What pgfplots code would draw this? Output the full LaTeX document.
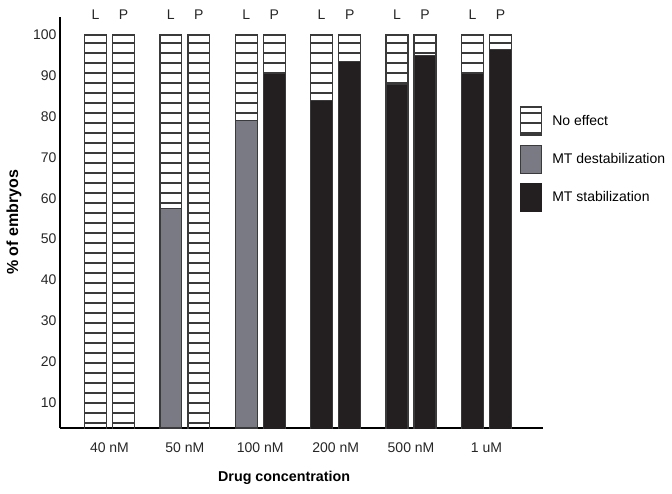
\documentclass[border=0pt]{standalone}
\usepackage{fontspec}
\setmainfont{Liberation Sans}
\usepackage{pgfplots}
\pgfplotsset{compat=1.18}
\usepackage{pgfplotstable}
\usetikzlibrary{patterns.meta}
\definecolor{destab}{HTML}{797A84}
\definecolor{stab}{HTML}{231F20}
\definecolor{edge}{HTML}{3A3A3A}
\tikzset{noeffect/.style={pattern={Lines[angle=0,distance=10pt,line width=1.6pt]}, pattern color=edge}}

\pgfplotstableread{
x destab stab none
-0.186 0 0 100
0.186 0 0 100
0.814 57.5 0 42.5
1.186 0 0 100
1.814 79 0 21
2.186 0 90.5 9.5
2.814 0 84 16
3.186 0 93.5 6.5
3.814 0 88 12
4.186 0 95 5
4.814 0 90.5 9.5
5.186 0 96.5 3.5
}\data

\begin{document}
\begin{tikzpicture}
\begin{axis}[
  scale only axis, width=483pt, height=411pt,
  xmin=-0.656, xmax=5.75, ymin=3.7, ymax=104.4,
  axis x line=bottom, axis y line=left,
  axis line style={-, line width=2.3pt, black},
  ybar stacked, bar width=0.29,
  ytick={10,20,...,100},
  xtick={0,...,5},
  xticklabels={40 nM,50 nM,100 nM,200 nM,500 nM,1 uM},
  major tick length=0pt,
  tick label style={font=\fontsize{14}{16}\selectfont, text=black!85},
  xticklabel style={yshift=-11pt},
  /pgf/number format/assume math mode=true,
  clip mode=individual,
  xlabel={\textbf{Drug concentration}},
  ylabel={\textbf{\% of embryos}},
  every axis x label/.style={at={(rel axis cs:0.464,0)}, yshift=-50pt, anchor=center, font=\fontsize{14.3}{16}\selectfont},
  every axis y label/.style={at={(rel axis cs:0,0.5)}, xshift=-46pt, yshift=0pt, rotate=90, anchor=center, font=\fontsize{16}{18}\selectfont},
  legend style={at={(0.952,0.783)}, anchor=north west, draw=none, fill=none,
    font=\fontsize{14}{16}\selectfont, row sep=9pt, column sep=8pt, inner sep=0pt},
  legend cell align=left,
]
\addlegendimage{legend image code/.code={\draw[noeffect, draw=edge, line width=1.3pt] (0pt,-14pt) rectangle (21pt,14pt);}}
\addlegendentry{No effect}
\addlegendimage{legend image code/.code={\draw[fill=destab, draw=edge, line width=1.3pt] (0pt,-14pt) rectangle (21pt,14pt);}}
\addlegendentry{MT destabilization}
\addlegendimage{legend image code/.code={\draw[fill=stab, draw=stab, line width=1.3pt] (0pt,-14pt) rectangle (21pt,14pt);}}
\addlegendentry{MT stabilization}

\addplot[fill=destab, draw=edge, line width=1.3pt, forget plot] table[x=x, y=destab]{\data};
\addplot[fill=stab, draw=edge, line width=1.3pt, forget plot] table[x=x, y=stab]{\data};
\addplot[noeffect, draw=edge, line width=1.3pt, forget plot] table[x=x, y=none]{\data};

\coordinate (O) at (rel axis cs:0,0);
\foreach \xx/\tt in {-0.186/L,0.186/P,0.814/L,1.186/P,1.814/L,2.186/P,2.814/L,3.186/P,3.814/L,4.186/P,4.814/L,5.186/P}{
  \edef\temp{\noexpand\node[anchor=base, font=\noexpand\fontsize{14}{16}\noexpand\selectfont, text=black!85] at (axis cs:\xx,103.9) {\tt};}
  \temp
}
\end{axis}
\pgfresetboundingbox
\path ([shift={(-60pt,-65pt)}]O) rectangle ([shift={(612pt,428pt)}]O);
\end{tikzpicture}
\end{document}
